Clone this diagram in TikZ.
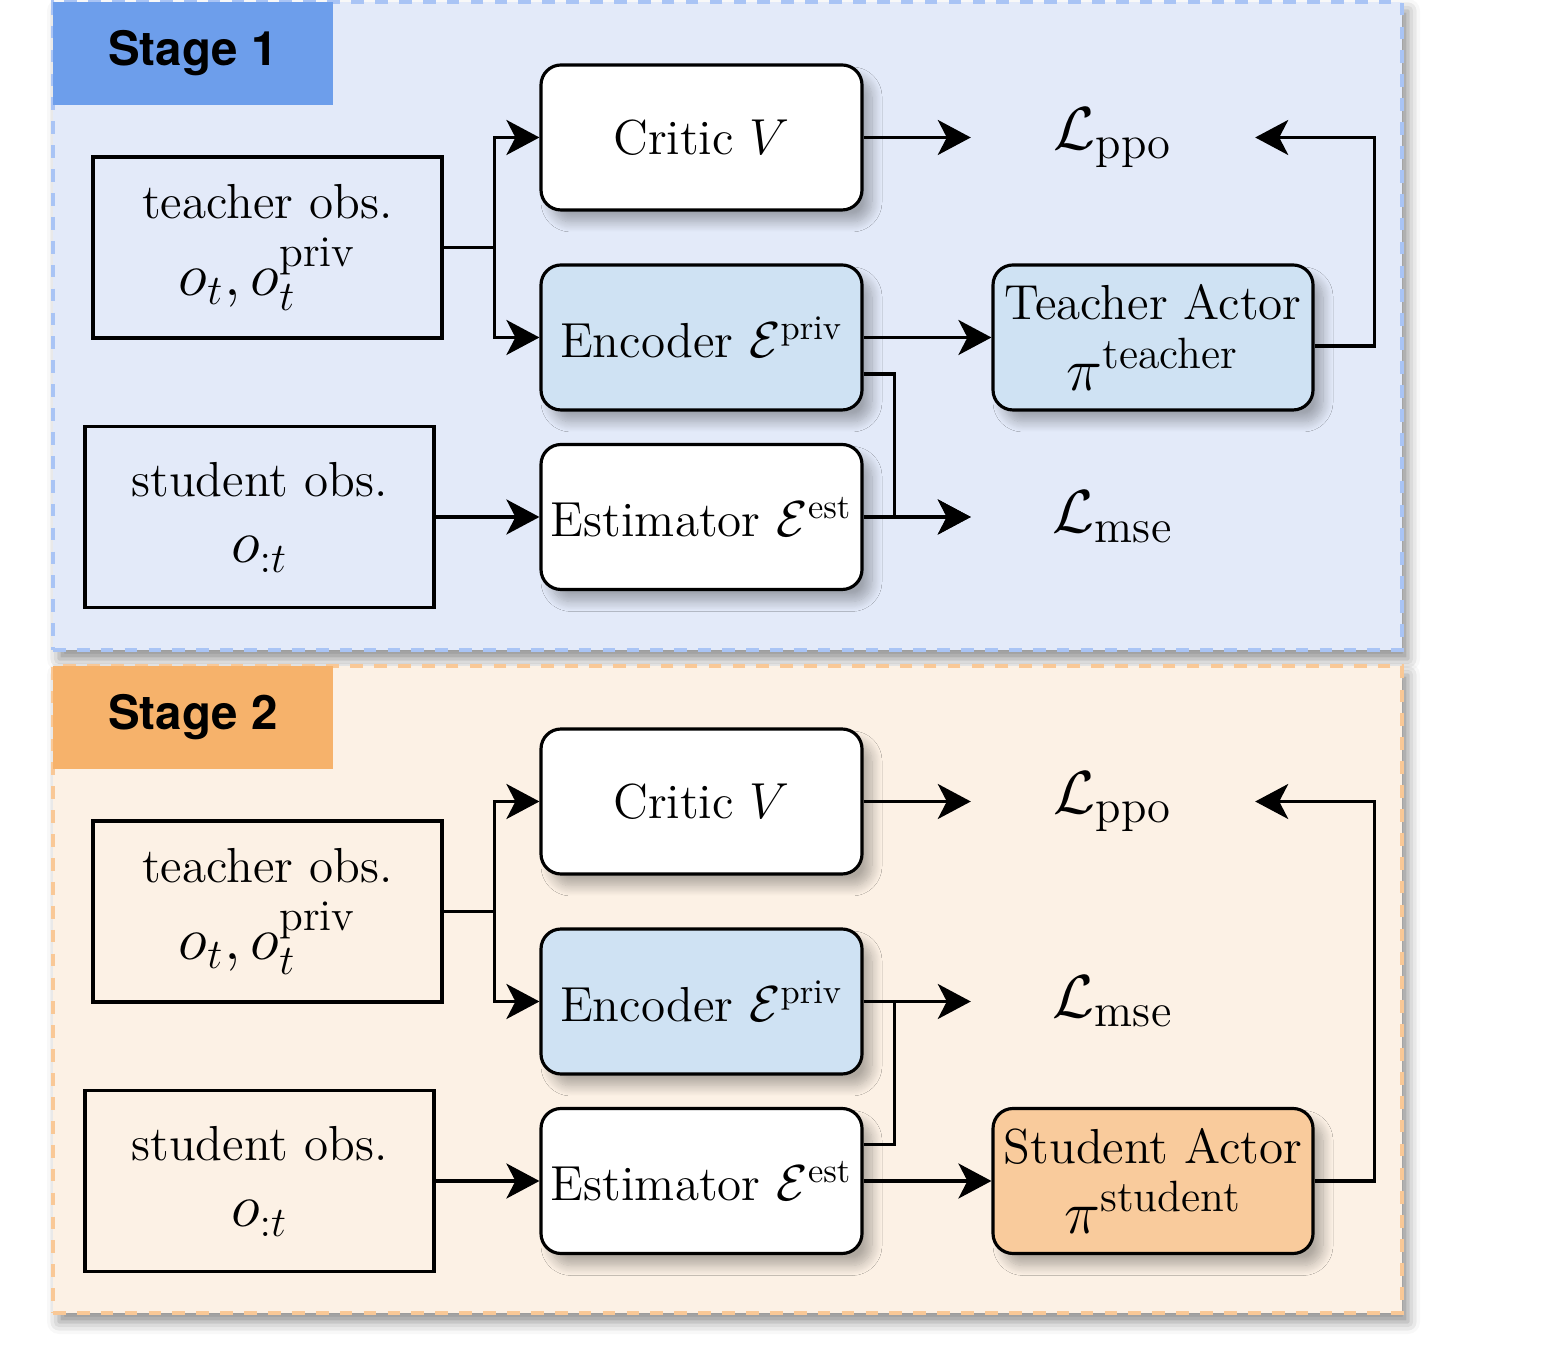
\documentclass[tikz,border=0pt]{standalone}
\usepackage{amsmath}
\usepackage{fontspec}
\newfontfamily\tagfont{TeX Gyre Heros}
\usetikzlibrary{arrows.meta,shadows.blur}

\definecolor{bluebg}{RGB}{227,234,249}
\definecolor{blueedge}{RGB}{169,196,245}
\definecolor{bluetag}{RGB}{109,158,235}
\definecolor{encblue}{RGB}{207,226,243}
\definecolor{orangebg}{RGB}{252,241,229}
\definecolor{orangeedge}{RGB}{249,200,150}
\definecolor{orangetag}{RGB}{246,178,107}
\definecolor{actororange}{RGB}{249,203,156}

% larger math for the second text line
\newcommand{\obsmath}[1]{{\fontsize{17.8}{20}\selectfont$#1$}}

\begin{document}
\begin{tikzpicture}[
  font=\fontsize{14}{17}\selectfont,
  panel/.style={line width=1.1pt,dash pattern=on 3.6pt off 3.2pt,minimum width=13.49cm,minimum height=6.47cm,inner sep=0pt,
    blur shadow={shadow xshift=0.6mm,shadow yshift=-0.9mm,shadow blur radius=1.2mm,shadow opacity=45}},
  tag/.style={minimum width=2.8cm,minimum height=1.03cm,inner sep=0pt,font=\tagfont\bfseries\fontsize{13.5}{16}\selectfont},
  obs/.style={draw,line width=0.9pt,minimum width=3.49cm,minimum height=1.81cm,align=center,inner sep=2pt},
  block/.style={draw,line width=0.9pt,rounded corners=0.2cm,fill=white,minimum width=3.21cm,minimum height=1.45cm,align=center,inner sep=1pt,
    blur shadow={shadow xshift=1mm,shadow yshift=-1.2mm,shadow blur radius=1mm,shadow blur steps=12,shadow opacity=30}},
  loss/.style={minimum width=2.83cm,inner sep=0pt,font=\fontsize{19}{22}\selectfont},
  arr/.style={line width=0.9pt,-{Stealth[length=3.3mm,width=3.5mm,inset=0.9mm]}},
  wire/.style={line width=0.9pt}
]
\useasboundingbox (0,0) rectangle (15.48,13.6);

% stage 1
\node[panel,draw=blueedge,fill=bluebg,minimum height=6.48cm] (s1_box) at (7.275,10.34) {};
\node[tag,fill=bluetag] (s1_tag) at (1.93,13.065) {Stage 1};
\node[obs] (s1_tobs) at (2.675,11.125) {teacher obs.\\[5pt]\obsmath{o_t, o_t^{\text{priv}}}};
\node[obs] (s1_sobs) at (2.595,8.43) {student obs.\\[2pt]\obsmath{o_{:t}}};
\node[block] (s1_critic) at (7.015,12.225) {Critic $V$};
\node[block,fill=encblue] (s1_enc) at (7.015,10.225) {Encoder $\mathcal{E}^{\text{priv}}$};
\node[block] (s1_est) at (7.015,8.43) {Estimator $\mathcal{E}^{\text{est}}$};
\node[block,fill=encblue,minimum width=3.2cm] (s1_actor) at (11.53,10.225) {Teacher Actor\\[3pt]\obsmath{\pi^{\text{teacher}}}};
\node[loss] (s1_ppo) at (11.13,12.225) {$\mathcal{L}_{\text{ppo}}$};
\node[loss] (s1_mse) at (11.13,8.43) {$\mathcal{L}_{\text{mse}}$};
\draw[arr] (s1_tobs.east) -- ++(0.51,0) |- (s1_critic.west);
\draw[arr] (s1_tobs.east) -- ++(0.51,0) |- (s1_enc.west);
\draw[arr] (s1_critic.east) -- (s1_ppo.west);
\draw[arr] (s1_enc.east) -- (s1_actor.west);
\draw[arr] ([yshift=-3.65mm]s1_enc.east) -- ++(0.31,0) |- (s1_mse.west);
\draw[arr] (s1_est.east) -- (s1_mse.west);
\draw[arr] (s1_sobs.east) -- (s1_est.west);
\draw[arr] ([yshift=-0.85mm]s1_actor.east) -- ++(0.6,0) |- (s1_ppo.east);

% stage 2
\node[panel,draw=orangeedge,fill=orangebg] (s2_box) at (7.275,3.705) {};
\node[tag,fill=orangetag] (s2_tag) at (1.93,6.425) {Stage 2};
\node[obs] (s2_tobs) at (2.675,4.485) {teacher obs.\\[5pt]\obsmath{o_t, o_t^{\text{priv}}}};
\node[obs] (s2_sobs) at (2.595,1.79) {student obs.\\[2pt]\obsmath{o_{:t}}};
\node[block] (s2_critic) at (7.015,5.585) {Critic $V$};
\node[block,fill=encblue] (s2_enc) at (7.015,3.585) {Encoder $\mathcal{E}^{\text{priv}}$};
\node[block] (s2_est) at (7.015,1.79) {Estimator $\mathcal{E}^{\text{est}}$};
\node[block,fill=actororange,minimum width=3.2cm] (s2_actor) at (11.53,1.79) {Student Actor\\[3pt]\obsmath{\pi^{\text{student}}}};
\node[loss] (s2_ppo) at (11.13,5.585) {$\mathcal{L}_{\text{ppo}}$};
\node[loss] (s2_mse) at (11.13,3.585) {$\mathcal{L}_{\text{mse}}$};
\draw[arr] (s2_tobs.east) -- ++(0.51,0) |- (s2_critic.west);
\draw[arr] (s2_tobs.east) -- ++(0.51,0) |- (s2_enc.west);
\draw[arr] (s2_critic.east) -- (s2_ppo.west);
\draw[arr] (s2_enc.east) -- (s2_mse.west);
\draw[wire] ([yshift=3.65mm]s2_est.east) -- ++(0.31,0) coordinate (s2_join) -- (s2_join |- s2_enc.east);
\draw[arr] (s2_est.east) -- (s2_actor.west);
\draw[arr] (s2_sobs.east) -- (s2_est.west);
\draw[arr] (s2_actor.east) -- ++(0.6,0) |- (s2_ppo.east);
\end{tikzpicture}
\end{document}
